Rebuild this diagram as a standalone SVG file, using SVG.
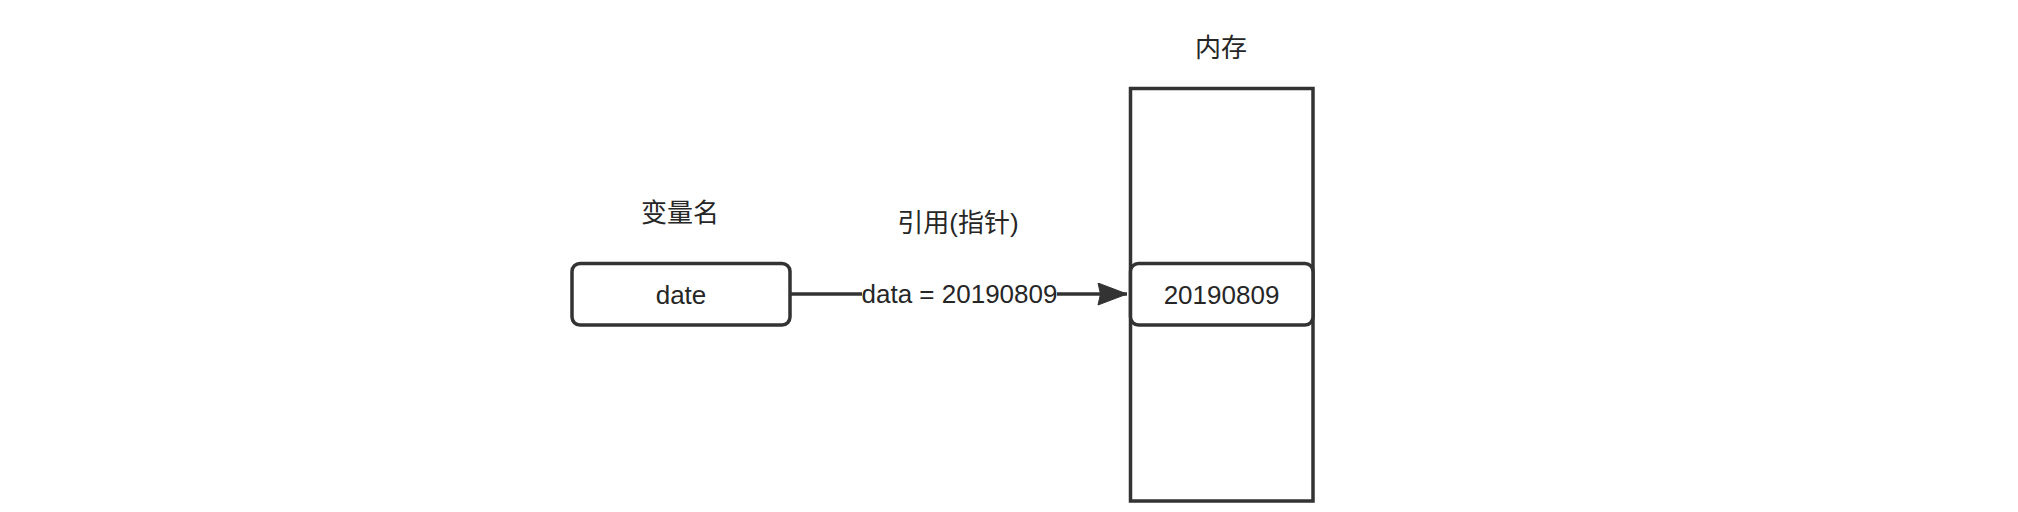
<svg xmlns="http://www.w3.org/2000/svg" width="2018" height="512" viewBox="0 0 2018 512">
<style>
.box{fill:#fff;stroke:#333;stroke-width:3.5}
.t{font-family:"Liberation Sans","Noto Sans CJK SC",sans-serif;font-size:26px;fill:#262626;text-anchor:middle}
.edge{fill:none;stroke:#333;stroke-width:3.5}
</style>
<defs>
<marker id="arr" markerUnits="userSpaceOnUse" markerWidth="32" markerHeight="26" refX="30" refY="11.5" orient="auto">
<path d="M1,0.5 L30,11.5 L1,22.5 L3.5,11.5 Z" fill="#333" stroke="#333" stroke-width="1"/>
</marker>
</defs>
<rect width="2018" height="512" fill="#fff"/>
<g id="var-label"><text class="t" x="680" y="222">变量名</text></g>
<g id="date"><rect class="box" x="572" y="263.5" width="218" height="61.5" rx="8"/><text class="t" x="681" y="303.5">date</text></g>
<g id="memory-label"><text class="t" x="1221" y="57">内存</text></g>
<g id="memory"><rect class="box" x="1130.5" y="88.5" width="182.5" height="412.5"/></g>
<g id="value"><rect class="box" x="1130.5" y="263.5" width="182.5" height="61.5" rx="8"/><text class="t" x="1221.5" y="303.5">20190809</text></g>
<g id="ref-label"><text class="t" x="958" y="232">引用(指针)</text></g>
<g id="connectors">
<path class="edge" d="M790,294 L1127,294" marker-end="url(#arr)"/>
<rect x="862" y="280" width="195" height="28" fill="#fff"/>
<text class="t" x="959.5" y="302.5">data = 20190809</text>
</g>
</svg>
